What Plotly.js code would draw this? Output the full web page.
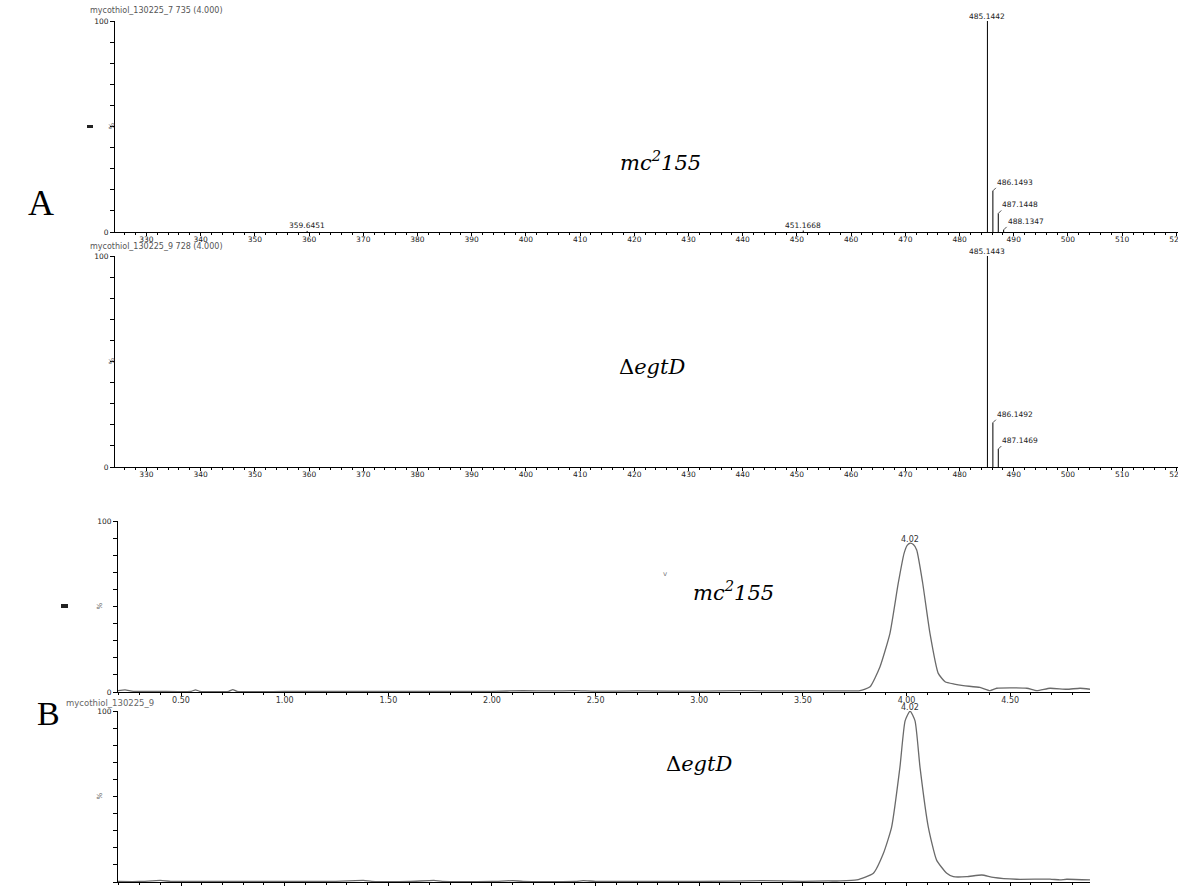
<!DOCTYPE html>
<html><head><meta charset="utf-8">
<script src="https://cdn.plot.ly/plotly-3.0.1.min.js"></script>
<style>html,body{margin:0;padding:0;background:#fff;overflow:hidden}#chart{width:1178px;height:886px}</style>
</head><body><div id="chart"></div>
<script>
const W = 1178, H = 886;

// ---- Panel A: mass spectra (m/z vs relative intensity %) ----
const mzWT = [359.6451, 451.1668, 485.1442, 486.1493, 487.1448, 488.1347];
const intWT = [0.5, 0.7, 100, 19.5, 8.8, 1.0];
const mzEgtD = [485.1443, 486.1492, 487.1469];
const intEgtD = [100, 21.0, 8.5];

// ---- Panel B: chromatograms (retention time, min vs %) ----
const rtWT = [0.196,0.23,0.27,0.40,0.55,0.57,0.59,0.73,0.75,0.77,1.00,1.50,2.00,2.15,2.28,2.40,2.50,2.70,3.00,3.20,3.30,3.50,3.62,3.72,3.775,3.824,3.872,3.920,3.960,3.988,4.003,4.017,4.033,4.049,4.078,4.113,4.153,4.186,4.230,4.274,4.354,4.403,4.435,4.580,4.628,4.692,4.773,4.837,4.885];
const ticWT = [0.8,1.2,0.4,0.3,0.4,1.3,0.4,0.4,1.4,0.4,0.3,0.3,0.4,0.8,0.6,0.8,0.5,0.6,0.5,0.8,0.7,0.6,0.7,0.6,0.8,3.1,14.8,34.3,63.6,81.1,85.8,87.0,86.2,83.0,63.6,34.3,10.9,6.0,4.6,3.7,2.7,0.8,2.2,2.2,0.8,2.2,1.6,2.2,1.6];
const rtEgtD = [0.196,0.30,0.40,0.45,0.50,0.80,1.00,1.20,1.38,1.42,1.60,1.72,1.76,2.00,2.10,2.15,2.40,2.44,2.50,2.80,3.00,3.30,3.50,3.62,3.679,3.760,3.840,3.888,3.928,3.968,3.993,4.017,4.041,4.065,4.105,4.145,4.194,4.226,4.290,4.363,4.418,4.531,4.692,4.740,4.773,4.885];
const ticEgtD = [0.3,0.3,0.9,0.4,0.3,0.3,0.4,0.3,0.9,0.4,0.3,0.9,0.4,0.3,0.8,0.4,0.3,0.8,0.4,0.3,0.3,0.8,0.4,0.6,0.6,1.2,5.1,16.6,32.1,67.0,94.2,100,94.2,67.0,32.1,12.8,5.1,3.1,3.1,4.1,2.7,1.6,1.7,1.2,1.6,1.2];

const strainWT = '<i>mc<sup>2</sup>155</i>';
const strainEgtD = 'Δ<i>egtD</i>';
const headerA1 = 'mycothiol_130225_7 735 (4.000)';
const headerA2 = 'mycothiol_130225_9 728 (4.000)';
const headerB2 = 'mycothiol_130225_9';
const panelLetters = ['A', 'B'];

// helpers
const px = x => x / W;
const py = y => 1 - y / H;
const SERIF = "'Liberation Serif', 'Times New Roman', serif";
const WIDESERIF = "'DejaVu Serif', serif";
const tickFont = {family: 'DejaVu Sans', size: 7.5, color: '#222'};
const pctVals = [0,10,20,30,40,50,60,70,80,90,100];
const pctText = pctVals.map(v => (v === 0 || v === 100) ? String(v) : '');

function sticks(mz, inten) {
  const x = [], y = [];
  mz.forEach((m, i) => { x.push(m, m, null); y.push(0, inten[i], null); });
  return {x, y};
}

function mzAxis(anchor) {
  return {domain: [px(115), 1], range: [324.2, 520.3], anchor,
    showline: true, linecolor: '#000', linewidth: 1, mirror: false,
    ticks: 'outside', ticklen: 3, tickcolor: '#000', tick0: 330, dtick: 10,
    ticklabelstandoff: -3,
    tickfont: tickFont, showgrid: false, zeroline: false, ticklabeloverflow: 'allow',
    minor: {dtick: 2, ticks: 'outside', ticklen: 2, tickcolor: '#000', showgrid: false}};
}
function rtAxis(anchor) {
  return {domain: [px(118), px(1090)], range: [0.196, 4.885], anchor,
    showline: true, linecolor: '#000', linewidth: 1,
    ticks: 'outside', ticklen: 3, tickcolor: '#000', tick0: 0.5, dtick: 0.5,
    ticklabelstandoff: -3,
    tickformat: '.2f', tickfont: {family: 'DejaVu Sans', size: 8, color: '#333'},
    showgrid: false, zeroline: false, ticklabeloverflow: 'allow',
    minor: {dtick: 0.1, ticks: 'outside', ticklen: 2, tickcolor: '#000', showgrid: false}};
}
function pctAxis(anchor, y0, y100) {
  return {domain: [py(y0), py(y100)], range: [0, 100], anchor,
    showline: true, linecolor: '#000', linewidth: 1,
    ticks: 'outside', ticklen: 4, tickcolor: '#000', tickvals: pctVals, ticktext: pctText,
    tickfont: tickFont, showgrid: false, zeroline: false};
}

const sA1 = sticks(mzWT, intWT), sA2 = sticks(mzEgtD, intEgtD);
const traces = [
  {x: sA1.x, y: sA1.y, xaxis: 'x', yaxis: 'y', mode: 'lines', line: {color: '#000', width: 1}, hoverinfo: 'skip', showlegend: false},
  {x: sA2.x, y: sA2.y, xaxis: 'x2', yaxis: 'y2', mode: 'lines', line: {color: '#000', width: 1}, hoverinfo: 'skip', showlegend: false},
  {x: rtWT, y: ticWT, xaxis: 'x3', yaxis: 'y3', mode: 'lines', line: {color: '#6a6a6a', width: 1.3, shape: 'spline', smoothing: 0.5}, hoverinfo: 'skip', showlegend: false},
  {x: rtEgtD, y: ticEgtD, xaxis: 'x4', yaxis: 'y4', mode: 'lines', line: {color: '#6a6a6a', width: 1.3, shape: 'spline', smoothing: 0.5}, hoverinfo: 'skip', showlegend: false}
];

const ann = [];
const peakFont = {family: 'DejaVu Sans', size: 7.5, color: '#222'};
function specLabels(mz, inten, xr, yr) {
  const iMax = inten.indexOf(Math.max(...inten));
  const base = mz[iMax];
  mz.forEach((m, i) => {
    const t = m.toFixed(4);
    if (i === iMax) {
      ann.push({xref: xr, yref: yr, x: m, y: inten[i], text: t, showarrow: false, xanchor: 'center', yanchor: 'bottom', yshift: -2, font: peakFont});
    } else if (m > base && m - base < 5) {
      ann.push({xref: xr, yref: yr, x: m, y: inten[i], text: t, showarrow: true, arrowhead: 0, arrowwidth: 0.8, arrowcolor: '#222', ax: 3, ay: -3, xanchor: 'left', yanchor: 'bottom', standoff: 0, font: peakFont, borderpad: 0});
    } else {
      ann.push({xref: xr, yref: yr, x: m, y: inten[i], text: t, showarrow: false, xanchor: 'center', yanchor: 'bottom', yshift: -1, font: peakFont});
    }
  });
}
specLabels(mzWT, intWT, 'x', 'y');
specLabels(mzEgtD, intEgtD, 'x2', 'y2');

function rtLabel(rt, tic, xr, yr) {
  const i = tic.indexOf(Math.max(...tic));
  ann.push({xref: xr, yref: yr, x: rt[i], y: tic[i], text: rt[i].toFixed(2), showarrow: false, xanchor: 'center', yanchor: 'bottom', yshift: -3, font: {family: 'DejaVu Sans', size: 8, color: '#333'}});
}
rtLabel(rtWT, ticWT, 'x3', 'y3');
rtLabel(rtEgtD, ticEgtD, 'x4', 'y4');

// "%" axis titles
[['y', 106], ['y2', 106], ['y3', 93], ['y4', 93]].forEach(([yr, xp]) => {
  ann.push({xref: 'paper', yref: yr, x: px(xp), y: 50, text: '%', showarrow: false, textangle: -90, font: {family: 'DejaVu Sans', size: 7, color: '#555'}});
});

// headers
const hdrFont = {family: 'DejaVu Sans', size: 8, color: '#555'};
ann.push({xref: 'paper', yref: 'paper', x: px(88), y: py(10), text: headerA1, showarrow: false, xanchor: 'left', yanchor: 'middle', font: hdrFont});
ann.push({xref: 'paper', yref: 'paper', x: px(88), y: py(247), text: headerA2, showarrow: false, xanchor: 'left', yanchor: 'middle', font: hdrFont});
ann.push({xref: 'paper', yref: 'paper', x: px(64), y: py(703), text: headerB2, showarrow: false, xanchor: 'left', yanchor: 'middle', font: {family: 'DejaVu Sans', size: 8.5, color: '#666'}});

// strain labels
const strFont = {family: WIDESERIF, size: 21, color: '#000'};
ann.push({xref: 'paper', yref: 'paper', x: px(660), y: py(145), text: strainWT, showarrow: false, font: strFont});
ann.push({xref: 'paper', yref: 'paper', x: px(652), y: py(367), text: strainEgtD, showarrow: false, font: strFont});
ann.push({xref: 'paper', yref: 'paper', x: px(733), y: py(607), text: strainWT, showarrow: false, font: strFont});
ann.push({xref: 'paper', yref: 'paper', x: px(699), y: py(778), text: strainEgtD, showarrow: false, font: strFont});

// panel letters
ann.push({xref: 'paper', yref: 'paper', x: px(26), y: py(181), text: panelLetters[0], showarrow: false, font: {family: SERIF, size: 36, color: '#000'}});
ann.push({xref: 'paper', yref: 'paper', x: px(35), y: py(734), text: panelLetters[1], showarrow: false, font: {family: SERIF, size: 34, color: '#000'}});

// small stray mark
ann.push({xref: 'paper', yref: 'paper', x: px(665), y: py(574), text: 'v', showarrow: false, font: {family: 'DejaVu Sans', size: 7, color: '#777'}});

const shapes = [
  {type: 'rect', xref: 'paper', yref: 'paper', x0: px(87), x1: px(93), y0: py(128), y1: py(125), fillcolor: '#222', line: {width: 0}},
  {type: 'rect', xref: 'paper', yref: 'paper', x0: px(61), x1: px(68), y0: py(608), y1: py(604), fillcolor: '#222', line: {width: 0}}
];

const layout = {
  width: W, height: H, margin: {l: 0, r: 0, t: 0, b: 0},
  paper_bgcolor: '#fff', plot_bgcolor: '#fff', showlegend: false,
  font: {family: 'DejaVu Sans', size: 8, color: '#222'},
  xaxis: mzAxis('y'), yaxis: pctAxis('x', 232, 21),
  xaxis2: mzAxis('y2'), yaxis2: pctAxis('x2', 467, 256),
  xaxis3: rtAxis('y3'), yaxis3: pctAxis('x3', 692, 521),
  xaxis4: rtAxis('y4'), yaxis4: pctAxis('x4', 882, 711),
  annotations: ann, shapes: shapes
};

Plotly.newPlot('chart', traces, layout, {staticPlot: true, displayModeBar: false});
</script></body></html>
